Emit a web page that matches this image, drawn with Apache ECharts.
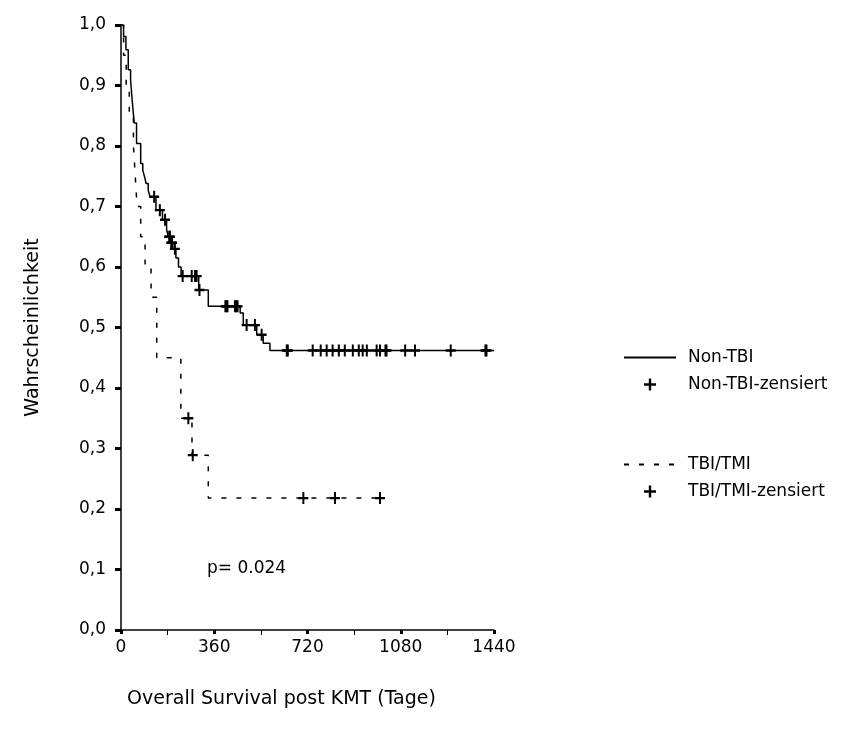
<!DOCTYPE html>
<html>
<head>
<meta charset="utf-8">
<script src="https://cdn.jsdelivr.net/npm/echarts@6/dist/echarts.min.js"></script>
<style>html,body{margin:0;padding:0;background:#fff;}#chart{width:850px;height:735px;}</style>
</head>
<body>
<div id="chart"></div>
<script>
// ---- data ----
var xTicks = [0, 360, 720, 1080, 1440];
var yTicks = ['0,0','0,1','0,2','0,3','0,4','0,5','0,6','0,7','0,8','0,9','1,0'];
// Kaplan-Meier steps: [day, survival from that day on]
var nonTbiSteps = [[0,1.0],[10,0.981],[19,0.959],[28,0.926],[37,0.909],[44,0.871],[51,0.838],[60,0.804],[76,0.771],[84,0.760],[91,0.749],[97,0.738],[105,0.727],[112,0.716],[135,0.694],[160,0.678],[176,0.662],[183,0.650],[191,0.640],[200,0.630],[212,0.615],[222,0.600],[232,0.585],[300,0.562],[337,0.535],[460,0.524],[472,0.504],[524,0.488],[549,0.474],[575,0.462],[1440,0.462]];
var nonTbiCensored = [[128,0.716],[150,0.694],[170,0.678],[186,0.650],[189,0.650],[194,0.640],[197,0.640],[208,0.630],[238,0.585],[273,0.585],[286,0.585],[292,0.585],[303,0.562],[403,0.535],[407,0.535],[411,0.535],[440,0.535],[445,0.535],[450,0.535],[485,0.504],[517,0.504],[543,0.488],[640,0.462],[644,0.462],[740,0.462],[771,0.462],[794,0.462],[817,0.462],[841,0.462],[864,0.462],[895,0.462],[918,0.462],[933,0.462],[949,0.462],[987,0.462],[1000,0.462],[1021,0.462],[1025,0.462],[1097,0.462],[1135,0.462],[1273,0.462],[1407,0.462],[1411,0.462]];
var tbiSteps = [[0,1.0],[10,0.95],[20,0.90],[32,0.855],[48,0.80],[55,0.75],[62,0.70],[76,0.65],[93,0.60],[116,0.55],[138,0.45],[231,0.35],[274,0.289],[337,0.218],[1019,0.218]];
var tbiCensored = [[260,0.35],[277,0.289],[704,0.218],[826,0.218],[1000,0.218]];
var seriesNames = ['Non-TBI','Non-TBI-zensiert','TBI/TMI','TBI/TMI-zensiert'];
var pText = 'p= 0.024';

// ---- chart ----
var FONT = 'DejaVu Sans';
var FS = 17;
var TFS = 19;
var cross = 'path://M4,0H6V4H10V6H6V10H4V6H0V4H4Z';
var chart = echarts.init(document.getElementById('chart'), null, {renderer:'canvas'});
var legendText = {fontFamily: FONT, fontSize: FS, color: '#000', padding: [0,0,0,7]};
chart.setOption({
  animation: false,
  backgroundColor: '#fff',
  textStyle: {fontFamily: FONT, color: '#000'},
  grid: {left: 121, top: 25, width: 373, height: 605, containLabel: false},
  xAxis: {
    type: 'value', min: 0, max: 1440, interval: 360,
    name: 'Overall Survival post KMT (Tage)', nameLocation: 'middle', nameGap: 60,
    nameTextStyle: {fontFamily: FONT, fontSize: TFS, color: '#000', padding: [0,52,0,0]},
    axisLine: {show: true, lineStyle: {color: '#000', width: 1.5}},
    axisTick: {show: true, length: 4, lineStyle: {color: '#000', width: 3}},
    minorTick: {show: true, splitNumber: 2, length: 5, lineStyle: {color: '#000', width: 1}},
    splitLine: {show: false},
    axisLabel: {fontFamily: FONT, fontSize: FS, color: '#000', margin: 9,
      formatter: function(v){ return xTicks.indexOf(v) >= 0 ? String(v) : ''; }}
  },
  yAxis: {
    type: 'value', min: 0, max: 1, interval: 0.1,
    name: 'Wahrscheinlichkeit', nameLocation: 'middle', nameGap: 78,
    nameTextStyle: {fontFamily: FONT, fontSize: TFS, color: '#000'},
    axisLine: {show: true, lineStyle: {color: '#000', width: 1.5}},
    axisTick: {show: true, length: 6, lineStyle: {color: '#000', width: 3}},
    splitLine: {show: false},
    axisLabel: {fontFamily: FONT, fontSize: FS, color: '#000', margin: 15,
      formatter: function(v){ return yTicks[Math.round(v*10)]; }}
  },
  legend: [
    {data: [{name: seriesNames[0], itemStyle: {opacity: 0}}, {name: seriesNames[1]}],
     orient: 'vertical', left: 618, top: 344,
     itemWidth: 52, itemHeight: 12, itemGap: 10, selectedMode: false, textStyle: legendText},
    {data: [{name: seriesNames[2], itemStyle: {opacity: 0}}, {name: seriesNames[3]}],
     orient: 'vertical', left: 618, top: 451,
     itemWidth: 52, itemHeight: 12, itemGap: 10, selectedMode: false, textStyle: legendText}
  ],
  graphic: [{type: 'text', left: 207, top: 560,
    style: {text: pText, font: FS + 'px "' + FONT + '"', fill: '#000'}}],
  series: [
    {name: seriesNames[0], type: 'line', step: 'end', data: nonTbiSteps, symbol: 'none',
     lineStyle: {color: '#000', width: 1.5}, itemStyle: {color: '#000'}, z: 3},
    {name: seriesNames[1], type: 'scatter', data: nonTbiCensored, symbol: cross, symbolSize: [10,12],
     itemStyle: {color: '#000', opacity: 1}, z: 4},
    {name: seriesNames[2], type: 'line', step: 'end', data: tbiSteps, symbol: 'none',
     lineStyle: {color: '#000', width: 1.5, type: [5,10]}, itemStyle: {color: '#000'}, z: 3},
    {name: seriesNames[3], type: 'scatter', data: tbiCensored, symbol: cross, symbolSize: [10,12],
     itemStyle: {color: '#000', opacity: 1}, z: 4}
  ]
});
</script>
</body>
</html>
